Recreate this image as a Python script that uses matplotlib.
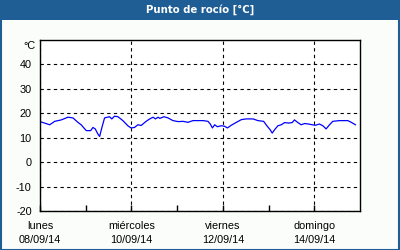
import matplotlib
matplotlib.use("Agg")
import matplotlib.pyplot as plt
from matplotlib.patches import Rectangle

# hours since lunes 08/09/14 00:00
hours = [0, 5.1, 7.7, 11.2, 14.7, 17.3, 19.9, 21.6, 24.3, 26.6, 27.8, 29.0, 30.4, 31.3,
         32.5, 33.9, 36.5, 37.7, 39.1, 40.9, 43.5, 46.1, 47.8, 49.6, 51.4, 53.1, 55.7,
         57.6, 59.4, 60.6, 62.0, 62.9, 65.1, 67.2, 69.8, 72.5, 75.1, 77.7, 80.3, 82.9,
         85.6, 88.2, 89.4, 90.5, 91.7, 93.1, 95.2, 96.9, 98.4, 100.4, 103.1, 105.7,
         108.3, 111.8, 114.4, 117.4, 119.1, 120.9, 121.9, 123.1, 124.9, 126.7, 128.4,
         130.6, 132.4, 133.6, 135.4, 137.1, 138.9, 141.1, 142.9, 144.6, 146.7, 148.5,
         150.2, 152.0, 153.7, 157.2, 161.6, 163.4, 165.6]
dew_point = [16.6, 15.3, 16.7, 17.3, 18.4, 18.1, 16.3, 15.3, 12.9, 12.9, 14.2, 13.6, 11.5,
             10.5, 14.2, 18.1, 18.6, 17.7, 18.8, 18.6, 17.0, 14.9, 14.0, 14.2, 15.3, 15.0,
             16.7, 17.7, 18.4, 17.7, 18.4, 17.9, 18.6, 18.1, 17.0, 16.6, 16.7, 16.3, 17.0,
             17.0, 17.0, 16.7, 15.6, 14.0, 15.3, 14.5, 14.9, 14.7, 14.0, 15.1, 16.3, 17.4,
             17.7, 17.7, 17.0, 16.7, 14.9, 13.2, 11.9, 13.2, 14.9, 15.3, 16.2, 16.0, 16.2,
             17.3, 16.2, 15.3, 15.8, 15.6, 15.3, 15.1, 15.6, 14.9, 13.6, 15.3, 16.7, 17.0,
             17.0, 16.3, 15.3]

yticks = [-20, -10, 0, 10, 20, 30, 40]
major_days = [0, 2, 4, 6]
minor_days = [1, 3, 5]
day_labels = ["lunes\n08/09/14", "miércoles\n10/09/14", "viernes\n12/09/14", "domingo\n14/09/14"]
title = "Punto de rocío [°C]"

W, H = 400, 250
fig = plt.figure(figsize=(4, 2.5), dpi=100, facecolor="#fbfdfb")
label_font = "Liberation Sans"

# title bar and frame
fig.patches.append(Rectangle((0, 1 - 20 / H), 1, 20 / H, transform=fig.transFigure,
                             facecolor="#1f5e94", edgecolor="none", zorder=0))
fig.patches.append(Rectangle((0.5 / W, 0.5 / H), 1 - 1.5 / W, 1 - 1 / H, transform=fig.transFigure,
                             facecolor="none", edgecolor="#1f5e94", linewidth=1.5, zorder=5))
fig.text(0.5, 1 - 10 / H, title, color="white", fontsize=7.3, fontweight="bold",
         ha="center", va="center")

ax = fig.add_axes([40 / W, 1 - 211 / H, 320 / W, 171 / H])
ax.set_facecolor("white")
ax.plot(hours, dew_point, color="#0000ff", linewidth=0.9)

ax.set_xlim(0, 168)
ax.set_ylim(-20, 50)
ax.set_yticks(yticks)
ax.set_yticklabels([str(v) for v in yticks], fontsize=7.8, family=label_font)
ax.set_xticks([d * 24 for d in major_days])
ax.set_xticklabels(day_labels, fontsize=7.8, linespacing=1.55, family=label_font)
ax.set_xticks([d * 24 for d in minor_days], minor=True)
ax.tick_params(axis="y", length=0, pad=6)
ax.tick_params(axis="x", which="both", direction="in", length=4, width=1, pad=7)

ax.grid(True, which="major", color="black", linestyle=(0, (3, 3)), linewidth=0.8)
for s in ax.spines.values():
    s.set_linewidth(1.0)
    s.set_color("black")

fig.text(36 / W, 1 - 46 / H, "°C", fontsize=7.8, family=label_font, ha="right", va="center")

fig.savefig("out.png", dpi=100, facecolor=fig.get_facecolor())
